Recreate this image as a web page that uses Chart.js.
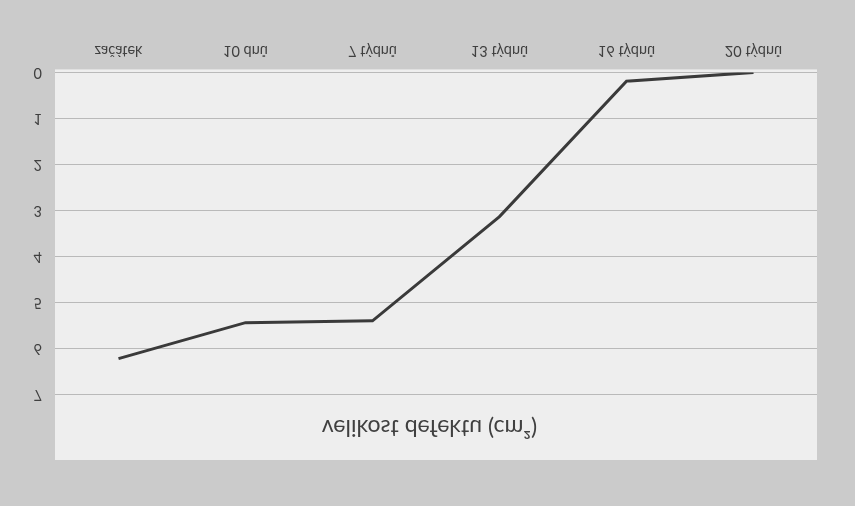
<!DOCTYPE html>
<html>
<head>
<meta charset="utf-8">
<script src="https://cdn.jsdelivr.net/npm/chart.js@4"></script>
<style>
  html, body { margin: 0; padding: 0; background: #cbcbcb; }
  #wrap { width: 855px; height: 506px; }
  /* the reference picture is mirrored top to bottom */
  #chart { transform: scaleY(-1); }
</style>
</head>
<body>
<div id="wrap"><canvas id="chart" width="855" height="506"></canvas></div>
<script>
const categories = ['začátek', '10 dnů', '7 týdnů', '13 týdnů', '16 týdnů', '20 týdnů'];
const defectSize = [6.21, 5.43, 5.39, 3.13, 0.19, 0];
const yTicks = [0, 1, 2, 3, 4, 5, 6, 7];
const chartTitle = 'velikost defektu (cm²)';

// light panel behind plot and title, title centred over the panel
const panelBg = {
  id: 'panelBg',
  beforeDraw(chart) {
    const { ctx, chartArea } = chart;
    ctx.save();
    ctx.fillStyle = '#eeeeee';
    ctx.fillRect(chartArea.left, 46, chartArea.right - chartArea.left, chartArea.bottom + 3 - 46);
    ctx.restore();
  },
  afterDraw(chart) {
    const { ctx } = chart;
    ctx.save();
    ctx.fillStyle = '#404040';
    ctx.font = '23px Lato';
    ctx.textAlign = 'center';
    ctx.textBaseline = 'middle';
    ctx.fillText(chartTitle, chart.width / 2 + 2, 79);
    ctx.restore();
  }
};

new Chart(document.getElementById('chart'), {
  type: 'line',
  data: {
    labels: categories,
    datasets: [{
      data: defectSize,
      borderColor: '#3a3a3a',
      borderWidth: 3,
      pointRadius: 0,
      tension: 0,
      fill: false
    }]
  },
  options: {
    responsive: false,
    animation: false,
    layout: { padding: { top: 111, right: 38, bottom: 29, left: 0 } },
    plugins: {
      legend: { display: false },
      tooltip: { enabled: false },
      title: { display: false }
    },
    scales: {
      x: {
        offset: true,
        grid: { display: false, drawTicks: false },
        border: { display: false },
        ticks: {
          color: '#404040',
          padding: 13,
          maxRotation: 0,
          font: { family: 'Lato', size: 14.5 }
        }
      },
      y: {
        min: 0,
        max: 7,
        afterFit(scale) { scale.width = 55; },
        afterBuildTicks(scale) { scale.ticks = yTicks.map(v => ({ value: v })); },
        grid: { color: '#b9b9b9', lineWidth: 1, drawTicks: false },
        border: { display: false },
        ticks: {
          color: '#404040',
          padding: 13,
          font: { family: 'Lato', size: 14.5 }
        }
      }
    }
  },
  plugins: [panelBg]
});
</script>
</body>
</html>
